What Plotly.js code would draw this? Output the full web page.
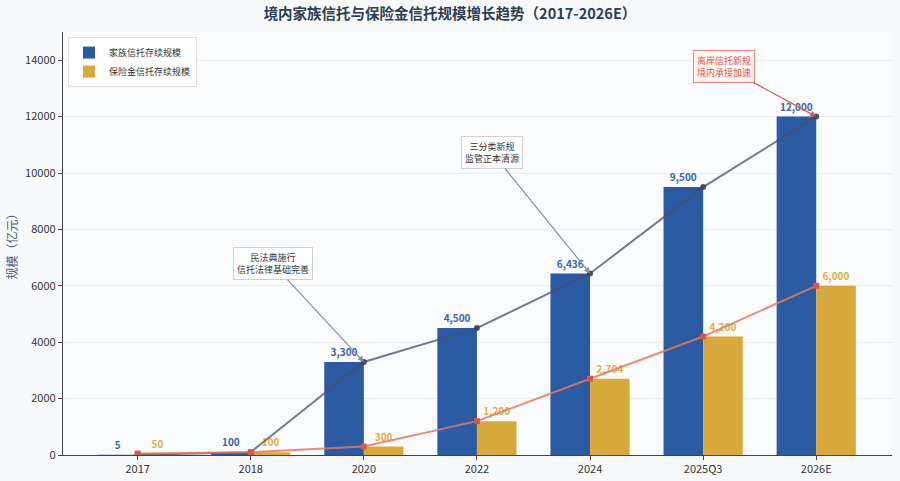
<!DOCTYPE html>
<html>
<head>
<meta charset="utf-8">
<script src="https://cdn.plot.ly/plotly-3.0.1.min.js"></script>
<style>html,body{margin:0;padding:0;background:#f8f9fb;}#chart{width:900px;height:481px;}</style>
</head>
<body>
<div id="chart"></div>
<script>
const categories = ["2017", "2018", "2020", "2022", "2024", "2025Q3", "2026E"];
const familyTrust = [5, 100, 3300, 4500, 6436, 9500, 12000];
const insuranceTrust = [50, 100, 300, 1200, 2704, 4200, 6000];
const seriesNames = ["家族信托存续规模", "保险金信托存续规模"];
const yTicks = [0, 2000, 4000, 6000, 8000, 10000, 12000, 14000];
const notes = [
  {cat: "2020", val: 3300, text: "民法典施行<br>信托法律基础完善"},
  {cat: "2024", val: 6436, text: "三分类新规<br>监管正本清源"},
  {cat: "2026E", val: 12000, text: "离岸信托新规<br>境内承接加速"}
];

const FONT = '"Noto Sans CJK SC", "Noto Sans", sans-serif';
const fmt = v => v.toLocaleString('en-US');
const BLUE = '#2b5aa3', GOLD = '#d7aa3b';

const traces = [
  {type: 'bar', x: categories, y: familyTrust, name: seriesNames[0],
   marker: {color: BLUE}, text: familyTrust.map(fmt), textposition: 'outside',
   constraintext: 'none', cliponaxis: false,
   outsidetextfont: {color: '#3b63ad', size: 10, family: FONT, weight: 'bold'}},
  {type: 'bar', x: categories, y: insuranceTrust, name: seriesNames[1],
   marker: {color: GOLD}, text: insuranceTrust.map(fmt), textposition: 'outside',
   constraintext: 'none', cliponaxis: false,
   outsidetextfont: {color: '#dcae45', size: 10, family: FONT, weight: 'bold'}},
  {type: 'scatter', mode: 'lines+markers', x: categories, y: familyTrust, showlegend: false,
   line: {color: 'rgba(70,80,105,0.75)', width: 2}, marker: {color: 'rgba(55,65,90,0.9)', size: 6}},
  {type: 'scatter', mode: 'lines+markers', x: categories, y: insuranceTrust, showlegend: false,
   line: {color: 'rgba(226,120,100,0.85)', width: 2}, marker: {color: '#d9574a', size: 6, symbol: 'square'}}
];

const offsets = [[-91, -98], [-98, -121], [-92, -50]];
const annotations = notes.map((n, i) => {
  const red = i === 2;
  return {
    x: categories.indexOf(n.cat), y: n.val, xref: 'x', yref: 'y', text: n.text,
    ax: offsets[i][0], ay: offsets[i][1],
    showarrow: true, arrowhead: 2, arrowsize: 1, arrowwidth: 1.2,
    arrowcolor: red ? '#d9574a' : '#8a8f99',
    font: {family: FONT, size: 9, color: red ? '#d9574a' : '#333'},
    bgcolor: red ? '#fff5f3' : '#ffffff',
    bordercolor: red ? '#e08a80' : '#d0d0d0', borderwidth: 1, borderpad: 3
  };
});

const layout = {
  width: 900, height: 481,
  paper_bgcolor: '#f8f9fb', plot_bgcolor: '#fafbfc',
  margin: {l: 63, r: 8, t: 32, b: 26},
  font: {family: FONT, size: 11, color: '#333'},
  title: {text: '<b>境内家族信托与保险金信托规模增长趋势（2017-2026E）</b>',
          font: {family: FONT, size: 14.5, color: '#2c3e50'}, x: 0.5, xanchor: 'center', y: 0.972, yanchor: 'middle'},
  barmode: 'group', bargap: 0.3, bargroupgap: 0,
  showlegend: true,
  legend: {x: 0.006, y: 0.988, xanchor: 'left', yanchor: 'top', bgcolor: '#ffffff',
           bordercolor: '#dddddd', borderwidth: 1, font: {size: 9, color: '#333', family: FONT},
           tracegroupgap: 0, itemwidth: 30},
  xaxis: {type: 'category', range: [-0.66, 6.67], showline: true, linecolor: '#444', linewidth: 1.2,
          ticks: 'outside', ticklen: 4, tickcolor: '#444', showgrid: false,
          tickfont: {size: 11, color: '#333'}},
  yaxis: {range: [0, 15000], tickvals: yTicks, ticktext: yTicks.map(String),
          showline: true, linecolor: '#444', linewidth: 1.2, ticks: 'outside', ticklen: 4, tickcolor: '#444',
          showgrid: true, gridcolor: '#ececec', gridwidth: 1, zeroline: false,
          tickfont: {size: 11, color: '#333'},
          title: {text: '规模（亿元）', font: {size: 12, color: '#4a5a8a', family: FONT}, standoff: 4}},
  annotations: annotations
};

Plotly.newPlot('chart', traces, layout, {displayModeBar: false, staticPlot: true});
</script>
</body>
</html>
